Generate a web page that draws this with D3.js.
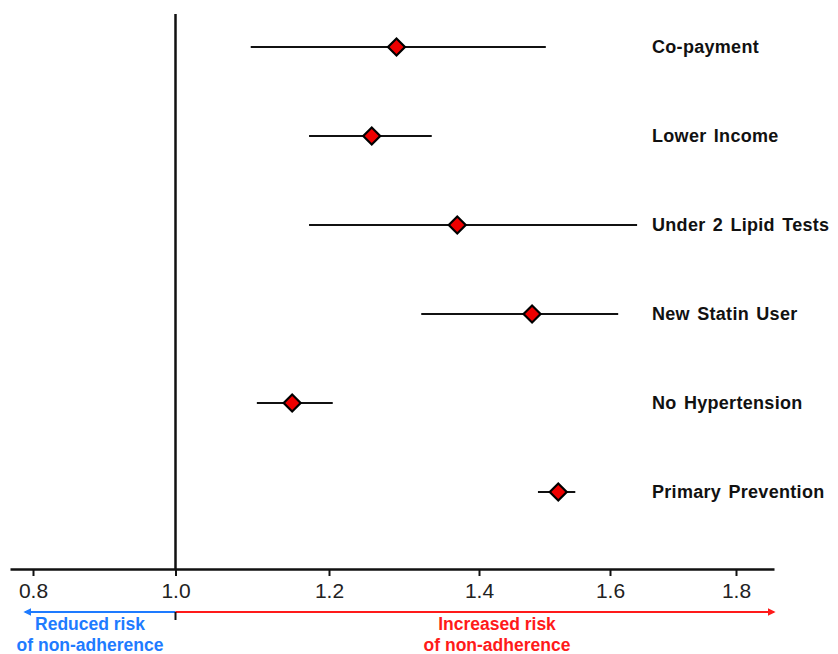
<!DOCTYPE html>
<html>
<head>
<meta charset="utf-8">
<script src="https://cdn.jsdelivr.net/npm/d3@7"></script>
<style>
  body { margin: 0; background: #fff; }
  svg { display: block; font-family: "Liberation Sans", Arial, sans-serif; }
</style>
</head>
<body>
<div id="forest"></div>
<script>
// Data: odds ratios with confidence intervals
const factors = ["Co-payment", "Lower Income", "Under 2 Lipid Tests", "New Statin User", "No Hypertension", "Primary Prevention"];
const estimates = [1.29, 1.257, 1.371, 1.481, 1.152, 1.521];
const lowerCI = [1.098, 1.174, 1.174, 1.323, 1.106, 1.49];
const upperCI = [1.502, 1.337, 1.643, 1.613, 1.205, 1.547];
const tickValues = [0.8, 1.0, 1.2, 1.4, 1.6, 1.8];
const tickLabels = ["0.8", "1.0", "1.2", "1.4", "1.6", "1.8"];

const width = 838, height = 654;
const axisY = 569, arrowY = 612;

const svg = d3.select("#forest")
  .append("svg")
    .attr("width", width)
    .attr("height", height);

// X scale (the original axis is drawn with uneven tick spacing)
const x = d3.scaleLinear()
    .domain([0.768, 0.8, 1.0, 1.2, 1.4, 1.6, 1.8, 1.86])
    .range([10, 33, 175.5, 329, 479, 610, 736, 774]);

// Y scale for the rows
const y = d3.scalePoint()
    .domain(factors)
    .range([47, 492]);

// X axis
const xAxis = svg.append("g")
    .attr("transform", `translate(0,${axisY})`)
    .call(d3.axisBottom(x)
      .tickValues(tickValues)
      .tickFormat((d, i) => tickLabels[i])
      .tickSizeOuter(0)
      .tickSizeInner(7)
      .tickPadding(7));
xAxis.select(".domain").attr("stroke", "#111").attr("stroke-width", 2.5);
xAxis.selectAll(".tick line").attr("stroke", "#111").attr("stroke-width", 2);
xAxis.selectAll(".tick text")
    .attr("fill", "#222")
    .style("font-size", "21px")
    .style("font-family", "Liberation Sans, Arial, sans-serif");

// Reference line at 1.0
svg.append("line")
    .attr("x1", x(1.0)).attr("x2", x(1.0))
    .attr("y1", 14).attr("y2", axisY)
    .attr("stroke", "#111")
    .attr("stroke-width", 2.5);

// Confidence intervals
svg.append("g")
  .selectAll("line")
  .data(factors)
  .join("line")
    .attr("x1", (d, i) => x(lowerCI[i]))
    .attr("x2", (d, i) => x(upperCI[i]))
    .attr("y1", d => y(d))
    .attr("y2", d => y(d))
    .attr("stroke", "#111")
    .attr("stroke-width", 2);

// Diamonds
const diamond = d3.symbol().type(d3.symbolSquare).size(145);
svg.append("g")
  .selectAll("path")
  .data(factors)
  .join("path")
    .attr("d", diamond)
    .attr("transform", (d, i) => `translate(${x(estimates[i])},${y(d)}) rotate(45)`)
    .attr("fill", "#ee0000")
    .attr("stroke", "#000")
    .attr("stroke-width", 2.2);

// Row labels
svg.append("g")
  .selectAll("text")
  .data(factors)
  .join("text")
    .attr("x", 652)
    .attr("y", d => y(d))
    .attr("dy", "0.35em")
    .style("font-size", "18px")
    .style("font-weight", "bold")
    .style("letter-spacing", "0.3px")
    .style("word-spacing", "2px")
    .attr("fill", "#111")
    .text(d => d);

// Direction arrows
const defs = svg.append("defs");
[["arrowBlue", "#1e7bff"], ["arrowRed", "#ff1a1a"]].forEach(([id, c]) => {
  defs.append("marker")
      .attr("id", id)
      .attr("viewBox", "0 0 10 10")
      .attr("refX", 8).attr("refY", 5)
      .attr("markerWidth", 4).attr("markerHeight", 4)
      .attr("orient", "auto-start-reverse")
    .append("path")
      .attr("d", "M0,0L10,5L0,10z")
      .attr("fill", c);
});

svg.append("line")
    .attr("x1", x(1.0)).attr("x2", 25)
    .attr("y1", arrowY).attr("y2", arrowY)
    .attr("stroke", "#1e7bff").attr("stroke-width", 2)
    .attr("marker-end", "url(#arrowBlue)");

svg.append("line")
    .attr("x1", x(1.0)).attr("x2", 774)
    .attr("y1", arrowY).attr("y2", arrowY)
    .attr("stroke", "#ff1a1a").attr("stroke-width", 2)
    .attr("marker-end", "url(#arrowRed)");

svg.append("line")
    .attr("x1", x(1.0)).attr("x2", x(1.0))
    .attr("y1", arrowY).attr("y2", arrowY + 8)
    .attr("stroke", "#111").attr("stroke-width", 2);

// Direction labels
const dirLabels = [
  {lines: ["Reduced risk", "of non-adherence"], cx: 90, color: "#1e7bff"},
  {lines: ["Increased risk", "of non-adherence"], cx: 497, color: "#ff1a1a"}
];
dirLabels.forEach(l => {
  svg.append("text")
      .attr("text-anchor", "middle")
      .attr("fill", l.color)
      .style("font-size", "17.5px")
      .style("font-weight", "bold")
    .selectAll("tspan")
    .data(l.lines)
    .join("tspan")
      .attr("x", l.cx)
      .attr("y", (d, i) => 630 + i * 21)
      .text(d => d);
});
</script>
</body>
</html>
